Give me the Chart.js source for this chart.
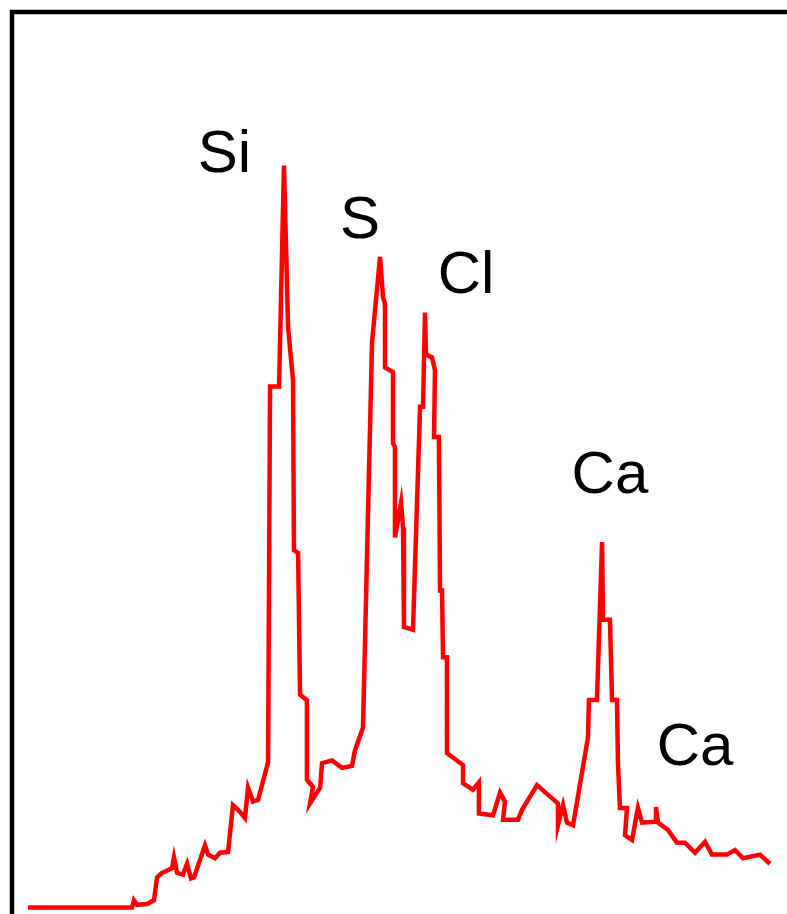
<!DOCTYPE html>
<html>
<head>
<meta charset="utf-8">
<script src="https://cdn.jsdelivr.net/npm/chart.js@4/dist/chart.umd.min.js"></script>
<style>
  html, body { margin: 0; padding: 0; background: #fff; }
  .wrap { position: relative; width: 787px; height: 914px; }
</style>
</head>
<body>
<div class="wrap"><canvas id="spectrum__graph"></canvas></div>
<script>
// energy (keV) and counts
const energy = [
  0.171, 0.805, 0.817, 0.836, 0.897, 0.939, 0.958, 0.988, 1.049, 1.061,
  1.080, 1.116, 1.141, 1.165, 1.183, 1.250, 1.269, 1.311, 1.342, 1.391,
  1.421, 1.452, 1.494, 1.513, 1.543, 1.574, 1.635, 1.647, 1.702, 1.732,
  1.757, 1.787, 1.793, 1.818, 1.830, 1.872, 1.872, 1.909, 1.891, 1.952,
  1.964, 2.025, 2.086, 2.147, 2.165, 2.214, 2.269, 2.318, 2.336, 2.348,
  2.348, 2.397, 2.397, 2.409, 2.409, 2.446, 2.458, 2.464, 2.519, 2.562,
  2.580, 2.592, 2.598, 2.635, 2.653, 2.647, 2.677, 2.684, 2.696, 2.702,
  2.726, 2.726, 2.824, 2.824, 2.885, 2.921, 2.921, 3.007, 3.050, 3.080,
  3.068, 3.159, 3.184, 3.275, 3.403, 3.403, 3.434, 3.458, 3.495, 3.586,
  3.592, 3.641, 3.672, 3.678, 3.720, 3.733, 3.763, 3.769, 3.781, 3.824,
  3.812, 3.855, 3.891, 3.916, 3.995, 4.001, 4.013, 4.074, 4.129, 4.178,
  4.239, 4.300, 4.342, 4.434, 4.483, 4.532, 4.635, 4.696
];
const counts = [
  7, 7, 15, 10, 11, 15, 40, 45, 50, 62,
  45, 43, 55, 39, 40, 75, 65, 61, 67, 68,
  119, 114, 105, 138, 123, 125, 166, 577, 577, 819,
  642, 584, 398, 395, 240, 234, 147, 139, 121, 138,
  165, 168, 160, 162, 179, 204, 625, 719, 675, 668,
  598, 593, 515, 511, 412, 450, 423, 314, 311, 555,
  555, 658, 612, 609, 595, 522, 522, 354, 354, 281,
  281, 176, 163, 143, 136, 144, 110, 108, 133, 123,
  103, 103, 114, 141, 121, 97, 119, 100, 97, 193,
  234, 234, 407, 322, 322, 234, 234, 165, 116, 116,
  86, 81, 116, 100, 101, 117, 100, 92, 78, 78,
  67, 79, 65, 65, 70, 61, 65, 55
];

// peak labels
const peakNames = ["Si", "S", "Cl", "Ca", "Ca"];
const peakEnergy = [1.369, 2.196, 2.842, 3.720, 4.239];
const peakCounts = [812, 740, 679, 461, 163];

const framePlugin = {
  id: "frame",
  beforeDraw(chart) {
    const c = chart.ctx;
    c.save();
    c.strokeStyle = "#000";
    c.lineWidth = 4.5;
    c.beginPath();
    c.moveTo(12, 914);
    c.lineTo(12, 12);
    c.lineTo(787, 12);
    c.stroke();
    c.restore();
  },
  afterDatasetsDraw(chart) {
    const c = chart.ctx;
    const x = chart.scales.x;
    const y = chart.scales.y;
    c.save();
    c.fillStyle = "#000";
    c.font = "60px 'Liberation Sans', Arial, sans-serif";
    c.textAlign = "center";
    c.textBaseline = "alphabetic";
    peakNames.forEach((name, i) => {
      c.fillText(name, x.getPixelForValue(peakEnergy[i]), y.getPixelForValue(peakCounts[i]));
    });
    c.restore();
  },
};

const spectrumGraph = () => {
  let ctx = document.getElementById("spectrum__graph").getContext("2d");
  let myChart = new Chart(ctx, {
    type: "line",
    data: {
      datasets: [
        {
          label: "Counts",
          data: energy.map((e, i) => ({ x: e, y: counts[i] })),
          borderColor: "#ff0000",
          borderWidth: 4.5,
          pointRadius: 0,
          tension: 0,
          fill: false,
        },
      ],
    },
    options: {
      animation: false,
      responsive: true,
      maintainAspectRatio: false,
      layout: { padding: 0 },
      plugins: {
        legend: { display: false },
        tooltip: { enabled: false },
      },
      scales: {
        x: { type: "linear", min: 0, max: 4.8, display: false },
        y: { type: "linear", min: 0, max: 1000, display: false },
      },
    },
    plugins: [framePlugin],
  });
};

spectrumGraph();
</script>
</body>
</html>
